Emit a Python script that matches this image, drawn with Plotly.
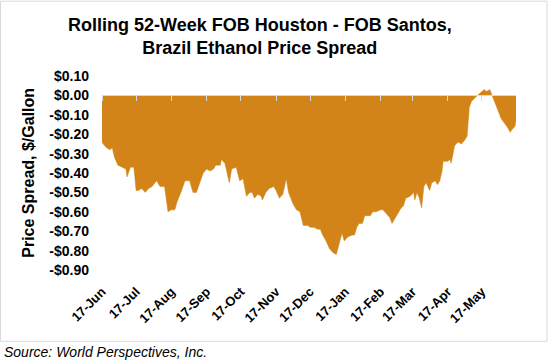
import plotly.graph_objects as go

dates = ["2018-06-17","2018-06-18","2018-06-21","2018-06-24","2018-06-26","2018-06-28","2018-07-01","2018-07-04","2018-07-08","2018-07-09","2018-07-12","2018-07-15",
         "2018-07-17","2018-07-19","2018-07-22","2018-07-25","2018-07-28","2018-07-31","2018-08-03","2018-08-04","2018-08-07","2018-08-11",
         "2018-08-14","2018-08-17","2018-08-20","2018-08-22","2018-08-26","2018-08-29","2018-09-02","2018-09-05","2018-09-08","2018-09-11","2018-09-14",
         "2018-09-17","2018-09-20","2018-09-23","2018-09-25","2018-09-29","2018-09-30","2018-10-03","2018-10-07","2018-10-09","2018-10-13",
         "2018-10-16","2018-10-19","2018-10-22","2018-10-25","2018-10-27","2018-10-29","2018-11-01","2018-11-04","2018-11-05","2018-11-08","2018-11-11","2018-11-15",
         "2018-11-17","2018-11-20","2018-11-23","2018-11-26","2018-11-28","2018-12-02","2018-12-05","2018-12-08","2018-12-11","2018-12-15",
         "2018-12-17","2018-12-20","2018-12-24","2018-12-26","2018-12-28","2018-12-31","2019-01-03","2019-01-06","2019-01-09","2019-01-12","2019-01-14","2019-01-16",
         "2019-01-19","2019-01-23","2019-01-25","2019-01-27","2019-01-29","2019-02-01","2019-02-03","2019-02-08","2019-02-10","2019-02-13",
         "2019-02-17","2019-02-19","2019-02-22","2019-02-25","2019-02-27","2019-03-02","2019-03-05","2019-03-07","2019-03-09","2019-03-11",
         "2019-03-15","2019-03-18","2019-03-19","2019-03-21","2019-03-23","2019-03-25","2019-03-27","2019-03-29","2019-04-01","2019-04-03","2019-04-06","2019-04-08","2019-04-10","2019-04-12","2019-04-13",
         "2019-04-17","2019-04-19","2019-04-20","2019-04-23","2019-04-26","2019-04-29","2019-05-02","2019-05-04","2019-05-06","2019-05-08","2019-05-11","2019-05-13","2019-05-15",
         "2019-05-19","2019-05-21","2019-05-24","2019-05-26","2019-05-30","2019-06-03","2019-06-08","2019-06-11","2019-06-12","2019-06-15","2019-06-16"]

spread = [-0.24,-0.25,-0.27,-0.28,-0.27,-0.32,-0.36,-0.37,-0.38,-0.42,-0.37,-0.37,
          -0.49,-0.49,-0.48,-0.50,-0.48,-0.47,-0.45,-0.44,-0.47,-0.47,
          -0.60,-0.59,-0.59,-0.55,-0.49,-0.44,-0.44,-0.50,-0.50,-0.45,-0.40,
          -0.38,-0.39,-0.38,-0.36,-0.36,-0.33,-0.35,-0.45,-0.38,-0.37,
          -0.44,-0.43,-0.52,-0.50,-0.50,-0.53,-0.51,-0.52,-0.54,-0.50,-0.48,-0.47,
          -0.49,-0.53,-0.51,-0.43,-0.50,-0.56,-0.59,-0.60,-0.67,-0.67,
          -0.68,-0.68,-0.69,-0.69,-0.72,-0.75,-0.79,-0.81,-0.82,-0.76,-0.71,-0.75,
          -0.73,-0.72,-0.72,-0.68,-0.66,-0.66,-0.62,-0.62,-0.60,-0.60,
          -0.59,-0.59,-0.61,-0.63,-0.66,-0.63,-0.60,-0.58,-0.57,-0.53,
          -0.52,-0.50,-0.54,-0.50,-0.53,-0.58,-0.47,-0.45,-0.49,-0.45,-0.44,-0.46,-0.44,-0.39,-0.34,
          -0.34,-0.33,-0.35,-0.26,-0.24,-0.25,-0.23,-0.21,-0.06,-0.03,-0.01,0.00,0.01,
          0.03,0.02,0.03,0.00,-0.06,-0.12,-0.16,-0.19,-0.18,-0.16,-0.13]

tick_dates = ["2018-06-17","2018-07-17","2018-08-17","2018-09-17","2018-10-17","2018-11-17",
              "2018-12-17","2019-01-17","2019-02-17","2019-03-17","2019-04-17","2019-05-17"]
tick_labels = ["17-Jun","17-Jul","17-Aug","17-Sep","17-Oct","17-Nov",
               "17-Dec","17-Jan","17-Feb","17-Mar","17-Apr","17-May"]

y_ticks = [0.10, 0.00, -0.10, -0.20, -0.30, -0.40, -0.50, -0.60, -0.70, -0.80, -0.90]
y_labels = ["$0.10", "$0.00", "-$0.10", "-$0.20", "-$0.30", "-$0.40", "-$0.50",
            "-$0.60", "-$0.70", "-$0.80", "-$0.90"]

title_text = "Rolling 52-Week FOB Houston - FOB Santos,<br>Brazil Ethanol Price Spread"
y_title = "Price Spread, $/Gallon"
source_text = "Source: World Perspectives, Inc."

W, H = 549, 363
L, R, T, B = 102, 516, 75.5, 270
pw, ph = R - L, B - T

def px(x):
    return (x - L) / pw

def py(y):
    return (B - y) / ph

FONT = "Liberation Sans, Arial, sans-serif"
ORANGE = "#D28418"
GRAY = "#D9D9D9"

fig = go.Figure()
fig.add_trace(go.Scatter(x=dates, y=spread, mode="lines", fill="tozeroy",
                         fillcolor=ORANGE, line=dict(color=ORANGE, width=0.5),
                         hoverinfo="skip", showlegend=False))
fig.add_trace(go.Scatter(x=dates, y=spread, xaxis="x2", mode="lines",
                         line=dict(color="rgba(0,0,0,0)", width=0),
                         hoverinfo="skip", showlegend=False))

fig.update_layout(
    width=W, height=H,
    margin=dict(l=L, r=W - R, t=T, b=H - B),
    paper_bgcolor="white", plot_bgcolor="white",
    font=dict(family=FONT, color="black"),
    xaxis=dict(range=[dates[0], dates[-1]], tickvals=tick_dates, ticktext=tick_labels,
               tickangle=-45, showline=False, showgrid=False, zeroline=False,
               ticks="outside", ticklen=8, tickcolor="rgba(0,0,0,0)",
               tickfont=dict(size=13, family=FONT, weight="bold", color="black")),
    xaxis2=dict(overlaying="x", matches="x", anchor="free", position=0.9,
                tickvals=tick_dates, showticklabels=False, showline=True,
                linecolor=GRAY, linewidth=1, ticks="outside", ticklen=5,
                tickcolor=GRAY, showgrid=False, zeroline=False, layer="above traces"),
    yaxis=dict(range=[-0.9, 0.1], tickvals=y_ticks, ticktext=y_labels,
               showline=False, showgrid=False, zeroline=False, ticks="",
               ticklabelstandoff=12,
               tickfont=dict(size=14, family=FONT, weight="bold", color="black")),
    annotations=[
        dict(text=title_text, xref="paper", yref="paper", x=px(260), y=py(12),
             showarrow=False, xanchor="center", yanchor="top", align="center",
             font=dict(size=18, family=FONT, weight="bold", color="black")),
        dict(text=y_title, xref="paper", yref="paper", x=px(29), y=py(172.5),
             textangle=-90, showarrow=False, xanchor="center", yanchor="middle",
             font=dict(size=16, family=FONT, weight="bold", color="black")),
        dict(text=source_text, xref="paper", yref="paper", x=px(2), y=py(352),
             showarrow=False, xanchor="left", yanchor="middle",
             font=dict(size=14, family=FONT, style="italic", color="black")),
    ],
    shapes=[
        dict(type="rect", xref="paper", yref="paper", x0=px(0.5), x1=px(547),
             y0=py(341.5), y1=py(0.5), line=dict(color=GRAY, width=1),
             fillcolor="rgba(0,0,0,0)", layer="below"),
    ],
)

fig.write_html("out.html", config={"displayModeBar": False},
               post_script="document.body.style.margin='0';")
